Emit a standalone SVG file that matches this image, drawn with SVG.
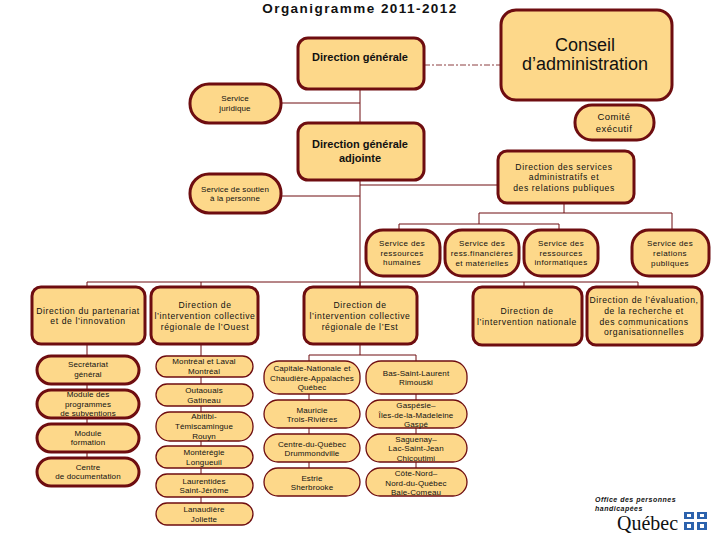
<svg xmlns="http://www.w3.org/2000/svg" width="720" height="540" viewBox="0 0 720 540">
<style>
text{font-family:"Liberation Sans",Arial,sans-serif;fill:#111;text-anchor:middle}
.b{fill:#fdd88a;stroke:#6e0d10;stroke-width:3}
.t{stroke-width:1.3}
.l{fill:none;stroke:#6e0d10;stroke-width:1}
.s{font-size:8px;letter-spacing:.4px}
.p{font-size:8px;letter-spacing:.12px}
.d{font-size:8.6px;letter-spacing:.6px}
.m{font-size:9.5px;letter-spacing:.5px}
.h{font-size:11px;font-weight:bold}
.o{font-size:7px;font-weight:bold;font-style:italic;letter-spacing:.5px;text-anchor:start}
.fl{fill:#2c62ad}
.w{fill:#fff}
</style>
<rect width="720" height="540" fill="#fff"/>
<text x="360" y="13" font-size="13.5" font-weight="bold" letter-spacing="1.45">Organigramme 2011-2012</text>
<g id="connectors" class="l">
<path d="M360 89V122M282 103H360M360 180V355M282 196H360M360 185H497"/>
<path d="M424 65H500" stroke-dasharray="6 2 2 2" stroke-width=".8"/>
<path d="M564 203V213M479 213H672M672 213V230M479 213V224M399 224H559M399 224V230M559 224V230"/>
<path d="M87 282H638M87 282V287M201 282V287M360 282V287M524 282V287M638 282V287"/>
<path d="M87 344V486M201 344V525M309 355H416M309 355V496M416 355V496"/>
</g>
<g id="n1"><rect class="b" x="298" y="38" width="126" height="51" rx="10"/><text class="h" x="360" y="61">Direction générale</text></g>
<g id="n2"><rect class="b" x="501" y="10" width="171" height="90" rx="15"/><text x="585" y="51" font-size="18">Conseil</text><text x="585" y="70" font-size="18">d’administration</text></g>
<g id="n3"><rect class="b" x="190" y="84" width="91" height="39" rx="19"/><text class="p" x="235" y="101">Service</text><text class="p" x="235" y="111">juridique</text></g>
<g id="n4"><rect class="b" x="575" y="105" width="79" height="35" rx="17"/><text class="m" x="614" y="120">Comité</text><text class="m" x="614" y="132">exécutif</text></g>
<g id="n5"><rect class="b" x="298" y="123" width="126" height="57" rx="10"/><text class="h" x="360" y="148">Direction générale</text><text class="h" x="360" y="162">adjointe</text></g>
<g id="n6"><rect class="b" x="190" y="174" width="91" height="39" rx="19"/><text class="p" x="235" y="192">Service de soutien</text><text class="p" x="235" y="201">à la personne</text></g>
<g id="n7"><rect class="b" x="498" y="151" width="136" height="52" rx="9"/><text class="d" x="564" y="170">Direction des services</text><text class="d" x="564" y="180">administratifs et</text><text class="d" x="564" y="191">des relations publiques</text></g>
<g id="n8"><rect class="b" x="366" y="230" width="74" height="46" rx="17"/><text class="s" x="402" y="246">Service des</text><text class="s" x="402" y="256">ressources</text><text class="s" x="402" y="265">humaines</text></g>
<g id="n9"><rect class="b" x="445" y="230" width="74" height="46" rx="17"/><text class="s" x="482" y="246">Service des</text><text class="s" x="482" y="256">ress.financières</text><text class="s" x="482" y="266">et matérielles</text></g>
<g id="n10"><rect class="b" x="524" y="230" width="74" height="46" rx="17"/><text class="s" x="561" y="246">Service des</text><text class="s" x="561" y="256">ressources</text><text class="s" x="561" y="265">informatiques</text></g>
<g id="n11"><rect class="b" x="632" y="230" width="77" height="46" rx="17"/><text class="s" x="670" y="246">Service des</text><text class="s" x="670" y="256">relations</text><text class="s" x="670" y="266">publiques</text></g>
<g id="n12"><rect class="b" x="32" y="287" width="113" height="57" rx="9"/><text class="d" x="88" y="314">Direction du partenariat</text><text class="d" x="88" y="324">et de l’innovation</text></g>
<g id="n13"><rect class="b" x="151" y="287" width="107" height="57" rx="9"/><text class="d" x="205" y="308">Direction de</text><text class="d" x="205" y="319">l’intervention collective</text><text class="d" x="205" y="330">régionale de l’Ouest</text></g>
<g id="n14"><rect class="b" x="304" y="287" width="113" height="57" rx="9"/><text class="d" x="360" y="308">Direction de</text><text class="d" x="360" y="319">l’intervention collective</text><text class="d" x="360" y="330">régionale de l’Est</text></g>
<g id="n15"><rect class="b" x="473" y="287" width="109" height="58" rx="9"/><text class="d" x="527" y="314">Direction de</text><text class="d" x="527" y="325">l’intervention nationale</text></g>
<g id="n16"><rect class="b" x="587" y="287" width="115" height="58" rx="9"/><text class="d" x="644" y="303">Direction de l’évaluation,</text><text class="d" x="644" y="314">de la recherche et</text><text class="d" x="644" y="325">des communications</text><text class="d" x="644" y="335">organisationnelles</text></g>
<g id="n17"><rect class="b" x="37" y="356" width="102" height="28" rx="14"/><text class="p" x="88" y="367">Secrétariat</text><text class="p" x="88" y="377">général</text></g>
<g id="n18"><rect class="b" x="37" y="390" width="102" height="28" rx="14"/><text class="p" x="88" y="397">Module des</text><text class="p" x="88" y="407">programmes</text><text class="p" x="88" y="416">de subventions</text></g>
<g id="n19"><rect class="b" x="37" y="424" width="102" height="28" rx="14"/><text class="p" x="88" y="436">Module</text><text class="p" x="88" y="445">formation</text></g>
<g id="n20"><rect class="b" x="37" y="458" width="102" height="28" rx="14"/><text class="p" x="88" y="470">Centre</text><text class="p" x="88" y="479">de documentation</text></g>
<g id="n21"><rect class="b t" x="156" y="356" width="97" height="21" rx="10.5"/><text class="p" x="204" y="364">Montréal et Laval</text><text class="p" x="204" y="374">Montréal</text></g>
<g id="n22"><rect class="b t" x="156" y="384" width="97" height="22" rx="11"/><text class="p" x="204" y="393">Outaouais</text><text class="p" x="204" y="403">Gatineau</text></g>
<g id="n23"><rect class="b t" x="156" y="412" width="97" height="29" rx="14"/><text class="p" x="204" y="419">Abitibi-</text><text class="p" x="204" y="429">Témiscamingue</text><text class="p" x="204" y="439">Rouyn</text></g>
<g id="n24"><rect class="b t" x="156" y="446" width="97" height="22" rx="11"/><text class="p" x="204" y="455">Montérégie</text><text class="p" x="204" y="465">Longueuil</text></g>
<g id="n25"><rect class="b t" x="156" y="474" width="97" height="23" rx="11"/><text class="p" x="204" y="484">Laurentides</text><text class="p" x="204" y="493">Saint-Jérôme</text></g>
<g id="n26"><rect class="b t" x="156" y="503" width="97" height="22" rx="11"/><text class="p" x="204" y="512">Lanaudière</text><text class="p" x="204" y="522">Joliette</text></g>
<g id="n27"><rect class="b t" x="264" y="361" width="96" height="33" rx="15"/><text class="p" x="312" y="371">Capitale-Nationale et</text><text class="p" x="312" y="381">Chaudière-Appalaches</text><text class="p" x="312" y="390">Québec</text></g>
<g id="n28"><rect class="b t" x="366" y="361" width="101" height="33" rx="15"/><text class="p" x="416" y="376">Bas-Saint-Laurent</text><text class="p" x="416" y="385">Rimouski</text></g>
<g id="n29"><rect class="b t" x="264" y="400" width="96" height="28" rx="14"/><text class="p" x="312" y="413">Mauricie</text><text class="p" x="312" y="422">Trois-Rivières</text></g>
<g id="n30"><rect class="b t" x="366" y="400" width="101" height="28" rx="14"/><text class="p" x="416" y="408">Gaspésie–</text><text class="p" x="416" y="418">Îles-de-la-Madeleine</text><text class="p" x="416" y="427">Gaspé</text></g>
<g id="n31"><rect class="b t" x="264" y="434" width="96" height="28" rx="14"/><text class="p" x="312" y="447">Centre-du-Québec</text><text class="p" x="312" y="456">Drummondville</text></g>
<g id="n32"><rect class="b t" x="366" y="434" width="101" height="28" rx="14"/><text class="p" x="416" y="442">Saguenay–</text><text class="p" x="416" y="451">Lac-Saint-Jean</text><text class="p" x="416" y="461">Chicoutimi</text></g>
<g id="n33"><rect class="b t" x="264" y="468" width="96" height="28" rx="14"/><text class="p" x="312" y="481">Estrie</text><text class="p" x="312" y="490">Sherbrooke</text></g>
<g id="n34"><rect class="b t" x="366" y="468" width="101" height="28" rx="14"/><text class="p" x="416" y="476">Côte-Nord–</text><text class="p" x="416" y="486">Nord-du-Québec</text><text class="p" x="416" y="495">Baie-Comeau</text></g>
<g id="logo">
<text class="o" x="595" y="502">Office des personnes</text>
<text class="o" x="595" y="510.5">handicapées</text>
<text x="617" y="530" font-size="20" style="text-anchor:start;font-family:'Liberation Serif',serif">Québec</text>
<rect class="fl" x="684" y="512" width="10" height="7"/><rect class="fl" x="697" y="512" width="10" height="7"/><rect class="fl" x="684" y="522" width="10" height="8"/><rect class="fl" x="697" y="522" width="10" height="8"/>
<rect class="w" x="687" y="514" width="4" height="3"/><rect class="w" x="700" y="514" width="4" height="3"/><rect class="w" x="687" y="524" width="4" height="4"/><rect class="w" x="700" y="524" width="4" height="4"/>
</g>
</svg>
